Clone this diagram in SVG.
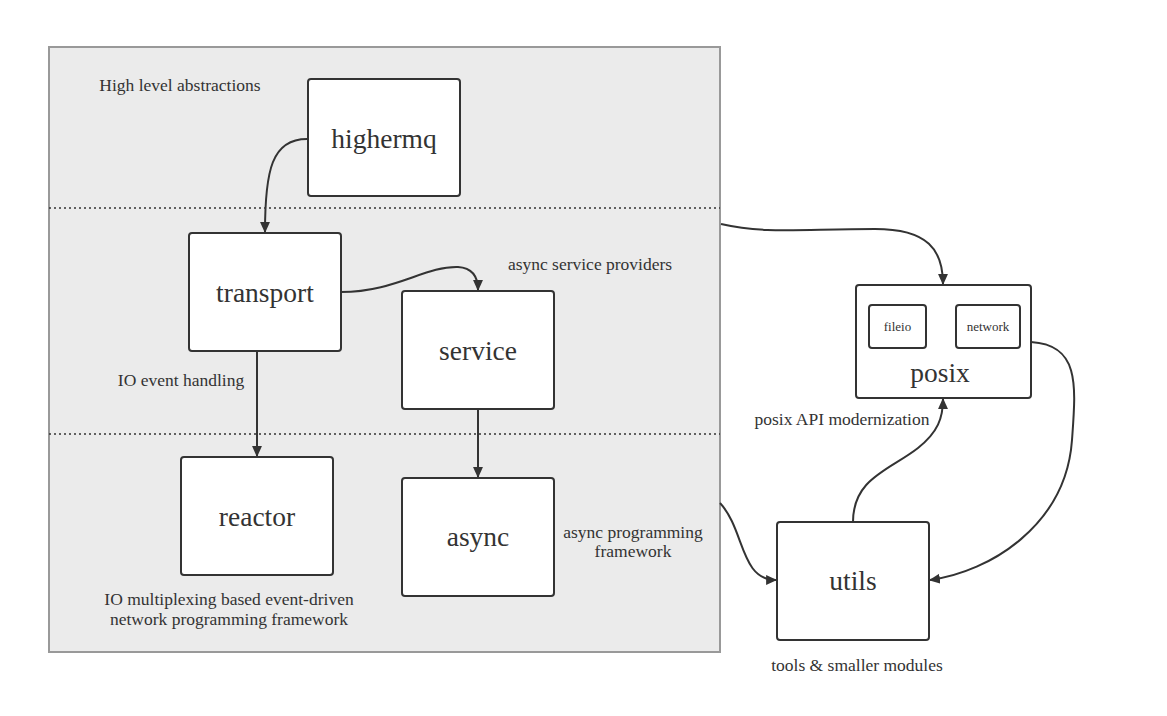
<svg xmlns="http://www.w3.org/2000/svg" width="1167" height="716" viewBox="0 0 1167 716">
<style>
.node{fill:#fff;stroke:#333;stroke-width:2}
text{font-family:'Liberation Serif','Times New Roman',Times,serif;fill:#333;text-anchor:middle}
.big{font-size:27.5px}
.sm{font-size:17.5px}
.tiny{font-size:13px}
.edge{fill:none;stroke:#333;stroke-width:2}
.sep{stroke:#333;stroke-width:1.5;stroke-dasharray:2 3}
</style>
<defs>
<marker id="arr" viewBox="0 0 10 10" refX="9" refY="5" markerWidth="11" markerHeight="11" markerUnits="userSpaceOnUse" orient="auto">
<path d="M0,0.5 L10,5 L0,9.5 z" fill="#333"/>
</marker>
</defs>
<rect width="1167" height="716" fill="#fff"/>
<g id="container">
<rect x="49" y="47" width="671" height="605" fill="#ebebeb" stroke="#999" stroke-width="2"/>
<line class="sep" x1="49" y1="208" x2="720" y2="208"/>
<line class="sep" x1="49" y1="434" x2="720" y2="434"/>
<text class="sm" x="180" y="91">High level abstractions</text>
<text class="sm" x="590" y="270">async service providers</text>
<text class="sm" x="181" y="386">IO event handling</text>
<text class="sm" x="229" y="605">IO multiplexing based event-driven</text>
<text class="sm" x="229" y="625">network programming framework</text>
<text class="sm" x="633" y="538">async programming</text>
<text class="sm" x="633" y="557">framework</text>
</g>
<g id="connectors">
<path class="edge" d="M307,139 C272,139 265,170 265,232" marker-end="url(#arr)"/>
<path class="edge" d="M341,292 C395,292 425,266 458,267 C474,268 478,278 478,290" marker-end="url(#arr)"/>
<path class="edge" d="M257,351 L257,456" marker-end="url(#arr)"/>
<path class="edge" d="M478,409 L478,477" marker-end="url(#arr)"/>
<path class="edge" d="M721,224 C765,234 800,229 875,229 C928,229 943,250 943,284" marker-end="url(#arr)"/>
<path class="edge" d="M720,503 C745,530 740,580 776,580" marker-end="url(#arr)"/>
<path class="edge" d="M853,522 C853,478 890,470 918,448 C938,432 943,418 943,399" marker-end="url(#arr)"/>
<path class="edge" d="M1031,342 C1080,345 1076,385 1072,440 C1066,525 990,572 930,580" marker-end="url(#arr)"/>
</g>
<g id="highermq">
<rect class="node" x="308" y="79" width="152" height="117" rx="3"/>
<text class="big" x="384" y="148">highermq</text>
</g>
<g id="transport">
<rect class="node" x="189" y="233" width="152" height="118" rx="3"/>
<text class="big" x="265" y="302">transport</text>
</g>
<g id="service">
<rect class="node" x="402" y="291" width="152" height="118" rx="3"/>
<text class="big" x="478" y="360">service</text>
</g>
<g id="reactor">
<rect class="node" x="181" y="457" width="152" height="118" rx="3"/>
<text class="big" x="257" y="526">reactor</text>
</g>
<g id="async">
<rect class="node" x="402" y="478" width="152" height="118" rx="3"/>
<text class="big" x="478" y="546">async</text>
</g>
<g id="posix">
<rect class="node" x="856" y="285" width="175" height="113" rx="3"/>
<text class="big" x="940" y="382">posix</text>
<text class="sm" x="842" y="425">posix API modernization</text>
</g>
<g id="fileio">
<rect class="node" x="869" y="305" width="57" height="43" rx="3"/>
<text class="tiny" x="897.5" y="331">fileio</text>
</g>
<g id="network">
<rect class="node" x="956" y="305" width="64" height="43" rx="3"/>
<text class="tiny" x="988" y="331">network</text>
</g>
<g id="utils">
<rect class="node" x="777" y="522" width="152" height="118" rx="3"/>
<text class="big" x="853" y="590">utils</text>
<text class="sm" x="857" y="671">tools &amp; smaller modules</text>
</g>
</svg>
